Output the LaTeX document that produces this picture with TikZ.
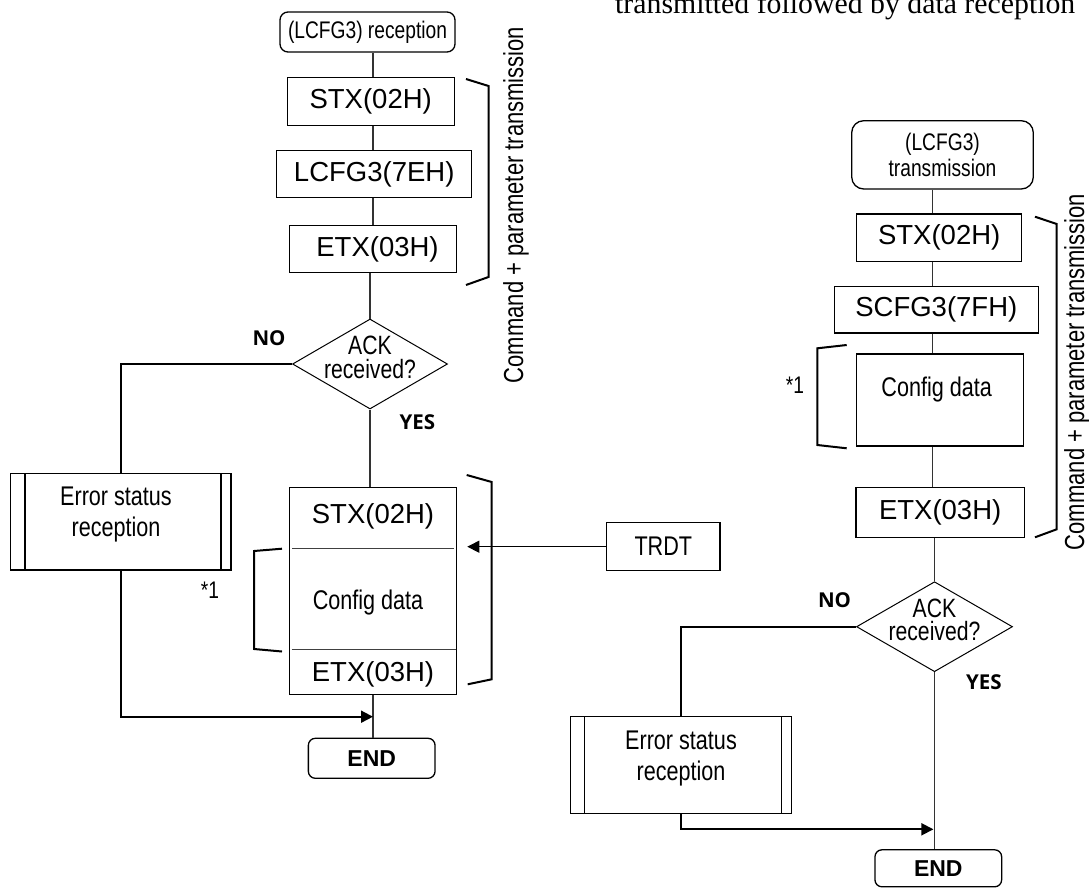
\documentclass[tikz,border=0pt]{standalone}
\usepackage{fontspec}
\setmainfont{Liberation Sans}
\newfontfamily\narrowsf[FakeStretch=0.8]{Liberation Sans}
\newfontfamily\labelsf{Open Sans}
\newfontfamily\titleserif{Liberation Serif}
\usetikzlibrary{shapes.geometric,arrows.meta}
\newcommand\fsz[2]{\fontsize{#1}{#2}\selectfont}

\tikzset{
  box/.style={draw, line width=1.3pt, inner sep=0pt, font=\fsz{27.5}{32}},
  startbox/.style={box, rounded corners=8pt, align=center, font=\narrowsf\fsz{24}{26.6}},
  endbox/.style={box, rounded corners=7pt, font=\bfseries\fsz{23}{26}},
  plain/.style={inner sep=0pt, align=center, font=\narrowsf\fsz{27}{31}},
  decision/.style={draw, diamond, line width=1pt, inner sep=0pt},
  ynlabel/.style={inner sep=0pt, font=\labelsf\bfseries\fsz{20.5}{24}},
  conn/.style={line width=1.2pt, draw=black!80},
  route/.style={line width=1.8pt},
  brk/.style={line width=2pt},
  tipend/.style={-{Triangle[length=12pt,width=12pt]}},
  sidelabel/.style={inner sep=0pt, rotate=90, font=\narrowsf\fsz{27.5}{30}},
  note/.style={inner sep=0pt, font=\narrowsf\fsz{24}{26}},
}

\begin{document}
\begin{tikzpicture}[x=1pt, y=-1pt]
\useasboundingbox (0,0) rectangle (1089,888);
\clip (0,0) rectangle (1089,888);

% heading line
\node[anchor=base west, inner sep=0pt, font=\titleserif\fsz{29.8}{33}] (title) at (615,13.5)
  {transmitted followed by data reception};

% ---------------- left flow: LCFG3 reception ----------------
\coordinate (colL) at (373,0);
\node[startbox, minimum width=175, minimum height=40] (sL) at (367.5,32) {(LCFG3) reception};
\node[box, minimum width=167, minimum height=48.4] (stxL) at (370.7,101.5) {STX(02H)};
\node[box, minimum width=195, minimum height=47] (cmdL) at (374.2,174.2) {LCFG3(7EH)};
\node[box, minimum width=167.4, minimum height=47] (etxL) at (373,249.2) {\hspace*{9pt}ETX(03H)};

\draw[conn] (sL.south -| colL) -- (stxL.north -| colL);
\draw[conn] (stxL.south -| colL) -- (cmdL.north -| colL);
\draw[conn] (cmdL.south -| colL) -- (etxL.north -| colL);

\node[decision, minimum width=155, minimum height=90] (dL) at (370,364) {};
\node[plain, font=\narrowsf\fsz{26.5}{23.5}] (ackL) at (370,357.5) {ACK\\received?};
\draw[conn] (etxL.south -| dL.north) -- (dL.north);
\node[ynlabel] (noL) at (269,337.7) {NO};
\node[ynlabel] (yesL) at (417.3,422.3) {YES};

% error status (predefined process)
\node[box, minimum width=220.3, minimum height=96.7] (errL) at (120.85,521.65) {};
\draw[line width=1.3pt] (25,473.3) -- (25,570);
\draw[line width=1.3pt] (221,473.3) -- (221,570);
\node[plain] (errTxtL) at (116,514.5) {Error status\\reception};
\draw[route] (dL.west) -| (errL.north);

% received data block
\node[box, minimum width=167.4, minimum height=206.6] (dataL) at (373,591) {};
\draw[line width=1.1pt, draw=black!75] (292,548.7) -- (454,548.7);
\draw[line width=1.1pt, draw=black!75] (291.7,649.3) -- (456,649.3);
\node[inner sep=0pt, font=\fsz{27.5}{32}] (stx2L) at (373,516.7) {STX(02H)};
\node[plain] (cfgL) at (368,602.7) {Config data};
\node[inner sep=0pt, font=\fsz{27.5}{32}] (etx2L) at (373,674.3) {ETX(03H)};
\draw[conn] (dL.south) -- (dL.south |- dataL.north);

% TRDT input
\node[box, font=\narrowsf\fsz{27}{31}, minimum width=113.3, minimum height=48] (trdt) at (663.3,546.7) {TRDT};
\coordinate (trdtEnd) at (467.3,546.7);
\draw[line width=1.3pt, tipend] (trdt.west) -- (trdtEnd);

% end of left flow
\node[endbox, minimum width=126.7, minimum height=40] (endL) at (371.7,758.3) {END};
\draw[conn] (dataL.south -| colL) -- (endL.north -| colL);
\coordinate (jL) at (373,716.7);
\draw[route, tipend] (errL.south) |- (jL);

% brackets and notes
\draw[brk] (466,79) -- (488.5,86) -- (488.5,277) -- (466,285);
\node[sidelabel] (cmdLabL) at (516,205) {Command + parameter transmission};
\draw[brk] (466.7,475) -- (491.7,482) -- (491.7,679.3) -- (467.7,684.3);
\draw[brk] (282,548.7) -- (254,551) -- (254,649) -- (282,651.5);
\node[note] (starL) at (210,590) {*1};

% ---------------- right flow: LCFG3 transmission ----------------
\coordinate (colR) at (932.7,0);
\node[startbox, rounded corners=12pt, minimum width=181.6, minimum height=68.3] (sR) at (942.5,154.85) {(LCFG3)\\transmission};
\node[box, minimum width=165, minimum height=47.7] (stxR) at (939.2,237.85) {STX(02H)};
\node[box, minimum width=204, minimum height=46.3] (scfgR) at (936.3,309.85) {SCFG3(7FH)};
\node[box, minimum width=166.6, minimum height=92] (cfgR) at (940,400) {};
\node[plain] (cfgTxtR) at (936.7,389.3) {Config data};
\node[box, minimum width=168.3, minimum height=49.6] (etxR) at (940.15,512.5) {ETX(03H)};

\draw[conn] (sR.south -| colR) -- (stxR.north -| colR);
\draw[conn] (stxR.south -| colR) -- (scfgR.north -| colR);
\draw[conn] (scfgR.south -| colR) -- (cfgR.north -| colR);
\draw[conn] (cfgR.south -| colR) -- (etxR.north -| colR);

\node[decision, minimum width=156, minimum height=90] (dR) at (934.5,626.7) {};
\node[plain, font=\narrowsf\fsz{26.5}{23.5}] (ackR) at (934.5,620) {ACK\\received?};
\draw[conn] (etxR.south -| dR.north) -- (dR.north);
\node[ynlabel] (noR) at (834.5,600) {NO};
\node[ynlabel] (yesR) at (983.8,681.7) {YES};

\node[box, minimum width=220.7, minimum height=96.6] (errR) at (681.05,765) {};
\draw[line width=1.3pt] (584.5,716.7) -- (584.5,813.3);
\draw[line width=1.3pt] (781.7,716.7) -- (781.7,813.3);
\node[plain] (errTxtR) at (681,758.3) {Error status\\reception};
\draw[route] (dR.west) -| (errR.north);

\node[endbox, minimum width=126.7, minimum height=37] (endR) at (938.3,868.3) {END};
\draw[conn] (dR.south) -- (dR.south |- endR.north);
\coordinate (jR) at (933.4,829.3);
\draw[route, tipend] (errR.south) |- (jR);

\draw[brk] (1035,216.7) -- (1056.7,224) -- (1056.7,529.3) -- (1035,537.3);
\node[sidelabel] (cmdLabR) at (1077,372) {Command + parameter transmission};
\draw[brk] (846.7,345) -- (817.3,348.3) -- (817.3,445) -- (846.7,448.3);
\node[note] (starR) at (795,385) {*1};

\end{tikzpicture}
\end{document}
